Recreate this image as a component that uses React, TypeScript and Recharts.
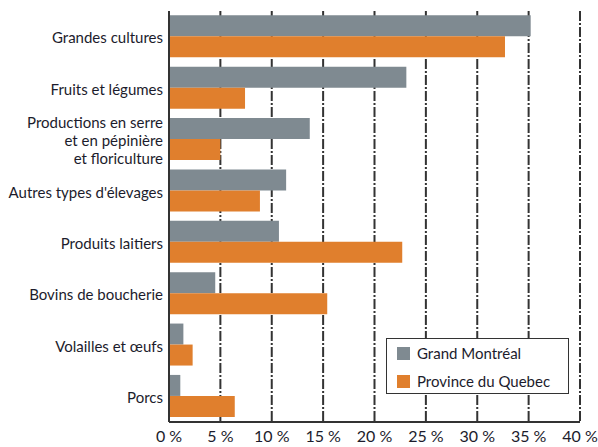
import React from "react";
import { BarChart, Bar, XAxis, YAxis, CartesianGrid } from "recharts";

const categories = [
  "Grandes cultures",
  "Fruits et légumes",
  "Productions en serre\net en pépinière\net floriculture",
  "Autres types d'élevages",
  "Produits laitiers",
  "Bovins de boucherie",
  "Volailles et œufs",
  "Porcs",
];
const montreal = [35.2, 23.1, 13.7, 11.4, 10.7, 4.5, 1.4, 1.1];
const quebec = [32.7, 7.4, 5.0, 8.85, 22.7, 15.4, 2.3, 6.4];
const xTicks = [0, 5, 10, 15, 20, 25, 30, 35, 40];
const seriesNames = ["Grand Montréal", "Province du Quebec"];

const GRAY = "#7f8a91";
const ORANGE = "#e07f2d";
const TEXT = "#1c1c2c";
const FONT = "Lato, 'Open Sans', sans-serif";

const data = categories.map((c, i) => ({ name: c, mtl: montreal[i], qc: quebec[i] }));

const YTick = (props: any) => {
  const { x, y, payload } = props;
  const lines = String(payload.value).split("\n");
  const lh = 18;
  const start = y - ((lines.length - 1) * lh) / 2 + 1;
  return (
    <text x={x} y={start} textAnchor="end" fill={TEXT} fontSize={15} fontFamily={FONT}>
      {lines.map((l, i) => (
        <tspan key={i} x={x} y={start + i * lh} dy="0.38em">
          {l}
        </tspan>
      ))}
    </text>
  );
};

const LegendBox = () => (
  <div
    style={{
      position: "absolute",
      left: 386,
      top: 338,
      width: 183,
      height: 56,
      boxSizing: "border-box",
      border: "1.5px solid #333",
      background: "#fff",
      fontFamily: FONT,
      fontSize: 15,
      color: TEXT,
    }}
  >
    {[GRAY, ORANGE].map((c, i) => (
      <div
        key={i}
        style={{
          position: "absolute",
          left: 10,
          top: 7 + i * 28,
          height: 14,
          display: "flex",
          alignItems: "center",
          whiteSpace: "nowrap",
        }}
      >
        <span style={{ display: "inline-block", width: 13, height: 13, background: c, marginRight: 7 }} />
        <span>{seriesNames[i]}</span>
      </div>
    ))}
  </div>
);

export default function App() {
  return (
    <div style={{ position: "absolute", left: 0, top: 0, width: 598, height: 447, background: "#fff" }}>
      <BarChart
        width={598}
        height={447}
        data={data}
        layout="vertical"
        margin={{ top: 11, right: 18, bottom: 0, left: 0 }}
        barCategoryGap={4.3}
        barGap={0}
      >
        <CartesianGrid
          horizontal={false}
          vertical={true}
          stroke="#333"
          strokeWidth={2}
          strokeDasharray="10 2 2 2"
        />
        <XAxis
          type="number"
          domain={[0, 40]}
          ticks={xTicks}
          tickFormatter={(v: number) => `${v} %`}
          tickLine={false}
          axisLine={{ stroke: "#333", strokeWidth: 2 }}
          height={25}
          tick={{ fill: TEXT, fontSize: 16, fontFamily: FONT }}
          tickMargin={3}
        />
        <YAxis
          type="category"
          dataKey="name"
          width={169}
          tickLine={false}
          axisLine={{ stroke: "#333", strokeWidth: 2 }}
          tick={<YTick />}
          tickMargin={0}
          interval={0}
        />
        <Bar dataKey="mtl" name={seriesNames[0]} fill={GRAY} isAnimationActive={false} />
        <Bar dataKey="qc" name={seriesNames[1]} fill={ORANGE} isAnimationActive={false} />
      </BarChart>
      <LegendBox />
    </div>
  );
}
